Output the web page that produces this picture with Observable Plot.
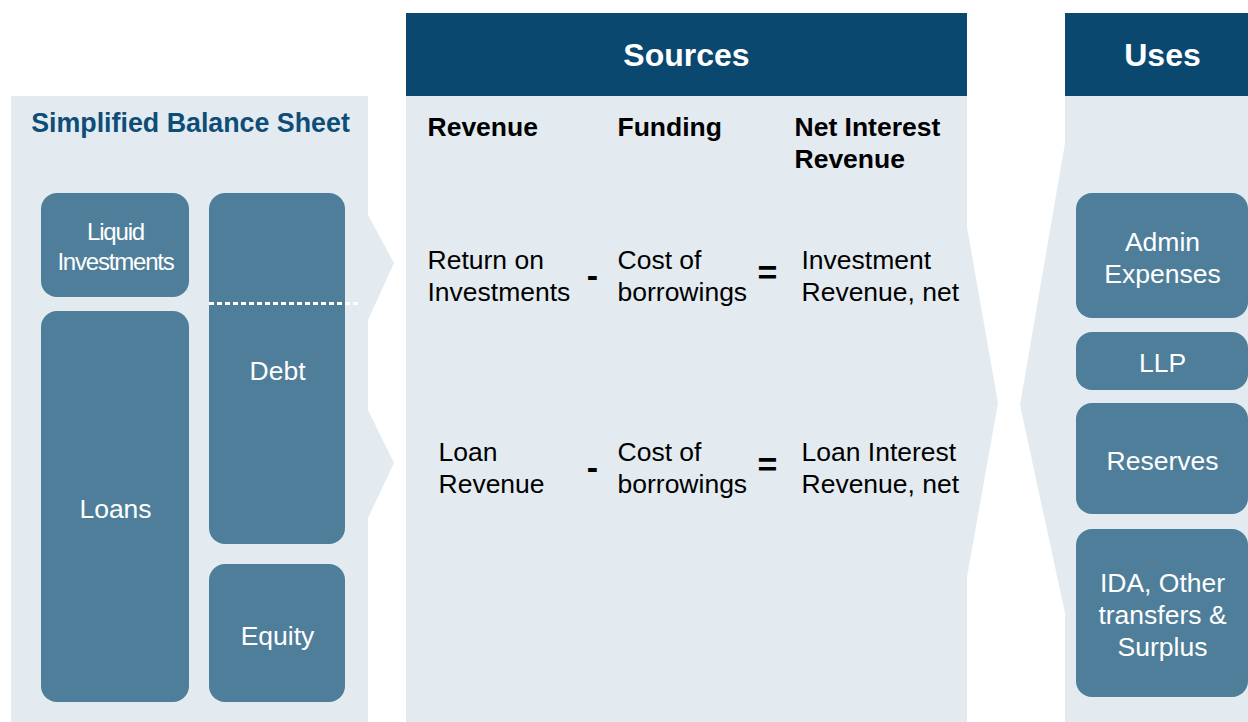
<!DOCTYPE html>
<html><head><meta charset="utf-8">
<script src="https://cdn.jsdelivr.net/npm/d3@7"></script>
<script src="https://cdn.jsdelivr.net/npm/@observablehq/plot@0.6"></script>
<style>html,body{margin:0;padding:0;background:#fff;overflow:hidden}</style>
</head><body><div id="chart"></div>
<script>
// ---- content ----
const panelTitles = ["Simplified Balance Sheet", "Sources", "Uses"];
const balanceItems = ["Liquid\nInvestments", "Loans", "Debt", "Equity"];
const columnHeads = ["Revenue", "Funding", "Net Interest\nRevenue"];
const revenueItems = ["Return on\nInvestments", "Loan\nRevenue"];
const fundingItems = ["Cost of\nborrowings", "Cost of\nborrowings"];
const netItems = ["Investment\nRevenue, net", "Loan Interest\nRevenue, net"];
const useItems = ["Admin\nExpenses", "LLP", "Reserves", "IDA, Other\ntransfers &\nSurplus"];
const operators = ["-", "="];

// ---- layout geometry (pixels) ----
const W = 1248, H = 722;
const C = {dark: "#0b4870", light: "#e3ebf0", box: "#4e7e9a", title: "#0e4d78"};
const lightPanels = [
  {x1: 11, x2: 368, y1: 96, y2: 722},
  {x1: 406, x2: 967, y1: 96, y2: 722},
  {x1: 1065, x2: 1248, y1: 96, y2: 722}
];
const darkHeads = [
  {x1: 406, x2: 967, y1: 13, y2: 96},
  {x1: 1065, x2: 1248, y1: 13, y2: 96}
];
const arrowShapes = [
  [{y: 215, x1: 368, x2: 368}, {y: 263, x1: 368, x2: 394}, {y: 320, x1: 368, x2: 368}],
  [{y: 410, x1: 368, x2: 368}, {y: 463, x1: 368, x2: 394}, {y: 518, x1: 368, x2: 368}],
  [{y: 227, x1: 967, x2: 967}, {y: 403, x1: 967, x2: 998}, {y: 577, x1: 967, x2: 967}],
  [{y: 143, x1: 1065, x2: 1065}, {y: 405, x1: 1020, x2: 1065}, {y: 613, x1: 1065, x2: 1065}]
];
const balanceBoxes = [
  {x1: 41, x2: 189, y1: 193, y2: 297, cx: 115, cy: 245},
  {x1: 41, x2: 189, y1: 311, y2: 702, cx: 115, cy: 507},
  {x1: 209, x2: 345, y1: 193, y2: 544, cx: 277, cy: 369},
  {x1: 209, x2: 345, y1: 564, y2: 702, cx: 277, cy: 634}
];
const useBoxes = [
  {x1: 1076, x2: 1248, y1: 193, y2: 318, cx: 1162, cy: 256},
  {x1: 1076, x2: 1248, y1: 332, y2: 390, cx: 1162, cy: 361},
  {x1: 1076, x2: 1248, y1: 403, y2: 514, cx: 1162, cy: 459},
  {x1: 1076, x2: 1248, y1: 529, y2: 697, cx: 1162, cy: 613}
];
const titlePos = [{x: 190, y: 123}, {x: 686, y: 55}, {x: 1162, y: 55}];
const headPos = [{x: 427, y: 125}, {x: 617, y: 125}, {x: 794, y: 141}];
const rowY = [274, 466];
const colX = {rev: [427, 438], fund: 617, net: 801, minus: 592, eq: 767};

const T = (arr, pos) => arr.map((t, i) => ({t, ...pos[i]}));

const fs = 26.5;
const lh = 32 / fs;
const plot = Plot.plot({
  width: W, height: H, margin: 0,
  x: {domain: [0, W], range: [0, W], axis: null},
  y: {domain: [0, H], range: [0, H], axis: null},
  style: {fontFamily: "'Liberation Sans', Arial, sans-serif", background: "#fff", overflow: "hidden"},
  marks: [
    Plot.rect(lightPanels, {x1: "x1", x2: "x2", y1: "y1", y2: "y2", fill: C.light}),
    ...arrowShapes.map(s => Plot.areaX(s, {y: "y", x1: "x1", x2: "x2", fill: C.light})),
    Plot.rect(darkHeads, {x1: "x1", x2: "x2", y1: "y1", y2: "y2", fill: C.dark}),
    Plot.rect(balanceBoxes, {x1: "x1", x2: "x2", y1: "y1", y2: "y2", fill: C.box, rx: 16}),
    Plot.rect(useBoxes, {x1: "x1", x2: "x2", y1: "y1", y2: "y2", fill: C.box, rx: 16}),
    Plot.ruleY([303], {x1: 209, x2: 358, stroke: "#fff", strokeWidth: 3, strokeDasharray: "5,3"}),
    // titles
    Plot.text(T([panelTitles[0]], [titlePos[0]]), {x: "x", y: "y", text: "t", fill: C.title, fontSize: 26.8, fontWeight: "bold"}),
    Plot.text(T(panelTitles.slice(1), titlePos.slice(1)), {x: "x", y: "y", text: "t", fill: "#fff", fontSize: 32, fontWeight: "bold"}),
    // column heads
    Plot.text(T(columnHeads, headPos), {x: "x", y: "y", text: "t", textAnchor: "start", lineAnchor: "middle", lineHeight: lh, fill: "#000", fontSize: fs, fontWeight: "bold"}),
    // rows
    Plot.text(revenueItems.map((t, i) => ({t, x: colX.rev[i], y: rowY[i]})), {x: "x", y: "y", text: "t", textAnchor: "start", lineAnchor: "middle", lineHeight: lh, fill: "#000", fontSize: fs}),
    Plot.text(fundingItems.map((t, i) => ({t, x: colX.fund, y: rowY[i]})), {x: "x", y: "y", text: "t", textAnchor: "start", lineAnchor: "middle", lineHeight: lh, fill: "#000", fontSize: fs}),
    Plot.text(netItems.map((t, i) => ({t, x: colX.net, y: rowY[i]})), {x: "x", y: "y", text: "t", textAnchor: "start", lineAnchor: "middle", lineHeight: lh, fill: "#000", fontSize: fs}),
    Plot.text(rowY.flatMap(y => [{t: operators[0], x: colX.minus, y: y + 2}, {t: operators[1], x: colX.eq, y: y - 1}]), {x: "x", y: "y", text: "t", fill: "#000", fontSize: 34, fontWeight: "bold"}),
    // box labels
    Plot.text(balanceItems.map((t, i) => ({t, x: balanceBoxes[i].cx, y: balanceBoxes[i].cy})), {x: "x", y: "y", text: "t", lineAnchor: "middle", lineHeight: 30 / 24, fill: "#fff", fontSize: fs}),
    Plot.text(useItems.map((t, i) => ({t, x: useBoxes[i].cx, y: useBoxes[i].cy})), {x: "x", y: "y", text: "t", lineAnchor: "middle", lineHeight: lh, fill: "#fff", fontSize: fs})
  ]
});
document.getElementById("chart").appendChild(plot);
// condensed label for Liquid Investments
d3.select(plot).selectAll("text").filter(function () { return this.textContent.startsWith("Liquid"); })
  .attr("font-size", 24).attr("letter-spacing", -1.2);
</script>
</body></html>
